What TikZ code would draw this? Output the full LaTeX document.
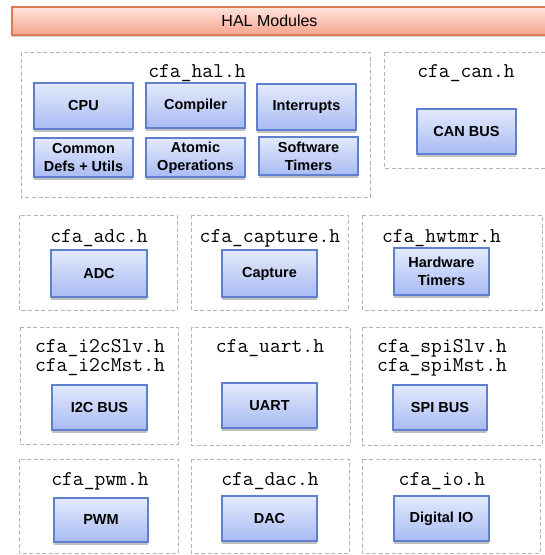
\documentclass[tikz,border=0pt]{standalone}
\usepackage{fontspec}
\setmainfont{Liberation Sans}
\usetikzlibrary{shadows}

\definecolor{modtop}{HTML}{E4EAFC}
\definecolor{modbot}{HTML}{A8BBF3}
\definecolor{modline}{HTML}{5F7FCF}
\definecolor{hdrtop}{HTML}{FDE4DC}
\definecolor{hdrbot}{HTML}{F7A48E}
\definecolor{hdrline}{HTML}{E07A55}
\definecolor{grpline}{HTML}{B4B4B4}

\tikzset{
  module/.style={draw=modline, line width=1.2pt, top color=modtop, bottom color=modbot,
    minimum width=99pt, minimum height=45pt, inner sep=0pt, align=center,
    font=\fontsize{14.5}{18}\selectfont\bfseries,
    drop shadow={shadow xshift=0pt, shadow yshift=-3pt, opacity=0.35, fill=black!70}},
  group/.style={draw=grpline, line width=1pt, dash pattern=on 4pt off 2.5pt,
    inner sep=0pt},
  hfile/.style={font=\ttfamily\fontsize{21}{19}\selectfont, align=center,
    inner sep=0pt, anchor=base},
  header/.style={draw=hdrline, line width=1.2pt, top color=hdrtop, bottom color=hdrbot,
    inner sep=0pt,
    drop shadow={shadow xshift=0pt, shadow yshift=-2pt, opacity=0.2, fill=black}}
}

\begin{document}
\begin{tikzpicture}[x=1pt, y=-1pt]
\useasboundingbox (0,0) rectangle (545,555);
\clip (0,0) rectangle (545,555);

% title bar
\node[header, minimum width=538pt, minimum height=28pt] (hdr) at (281,21) {};
\node[font=\fontsize{16}{19}\selectfont] (hdrtext) at (269.5,21) {HAL Modules};

% dashed header-file groups
\draw[group] (21,52) coordinate (hal-a) rectangle (370,197) coordinate (hal-b);
\draw[group] (384,52) coordinate (can-a) rectangle (550,168) coordinate (can-b);
\draw[group] (19,215) coordinate (adc-a) rectangle (177,310) coordinate (adc-b);
\draw[group] (191,215) coordinate (cap-a) rectangle (348,310) coordinate (cap-b);
\draw[group] (362,215) coordinate (hwt-a) rectangle (542,310) coordinate (hwt-b);
\draw[group] (20,327) coordinate (i2c-a) rectangle (178,444) coordinate (i2c-b);
\draw[group] (191,327) coordinate (uart-a) rectangle (350,445) coordinate (uart-b);
\draw[group] (362,327) coordinate (spi-a) rectangle (542,445) coordinate (spi-b);
\draw[group] (19,459) coordinate (pwm-a) rectangle (178,553) coordinate (pwm-b);
\draw[group] (191,459) coordinate (dac-a) rectangle (349,553) coordinate (dac-b);
\draw[group] (362,459) coordinate (io-a) rectangle (540,553) coordinate (io-b);

% header file names (anchored on the baseline of the last line)
\node[hfile] (t-hal) at (197,77) {cfa\_hal.h};
\node[hfile] (t-can) at (466,77) {cfa\_can.h};
\node[hfile] (t-adc) at (99,242) {cfa\_adc.h};
\node[hfile] (t-cap) at (270,242) {cfa\_capture.h};
\node[hfile] (t-hwt) at (441.5,242) {cfa\_hwtmr.h};
\node[hfile] (t-i2c) at (100,371) {cfa\_i2cSlv.h\\cfa\_i2cMst.h};
\node[hfile] (t-uart) at (270,352) {cfa\_uart.h};
\node[hfile] (t-spi) at (442,371) {cfa\_spiSlv.h\\cfa\_spiMst.h};
\node[hfile] (t-pwm) at (100,485) {cfa\_pwm.h};
\node[hfile] (t-dac) at (270,485) {cfa\_dac.h};
\node[hfile] (t-io) at (442,485) {cfa\_io.h};

% modules
\node[module, minimum height=46pt] (cpu) at (83.5,106) {CPU};
\node[module] (compiler) at (195.5,105.5) {Compiler};
\node[module, minimum height=46pt] (irq) at (306.5,107) {Interrupts};
\node[module, minimum height=39pt] (common) at (83.5,157.5) {Common\\Defs + Utils};
\node[module, minimum height=39pt] (atomic) at (195.5,157.5) {Atomic\\Operations};
\node[module, minimum height=38pt] (swtmr) at (308.5,156) {Software\\Timers};
\node[module] (can) at (466.5,131.5) {CAN BUS};
\node[module, minimum width=96pt, minimum height=47pt] (adc) at (99,273.5) {ADC};
\node[module, minimum width=95pt, minimum height=47pt] (capture) at (269.5,273.5) {Capture};
\node[module, minimum width=95pt, minimum height=47pt] (hwtmr) at (441.5,271.5) {Hardware\\Timers};
\node[module, minimum width=95pt] (i2c) at (99.5,407.5) {I2C BUS};
\node[module, minimum width=95pt] (uart) at (269.5,405.5) {UART};
\node[module, minimum width=94pt] (spi) at (440,407.5) {SPI BUS};
\node[module, minimum width=94pt, minimum height=44pt] (pwm) at (101,520) {PWM};
\node[module, minimum width=95pt] (dac) at (269.5,518.5) {DAC};
\node[module, minimum width=95pt] (dio) at (441.5,518.5) {Digital IO};
\end{tikzpicture}
\end{document}
